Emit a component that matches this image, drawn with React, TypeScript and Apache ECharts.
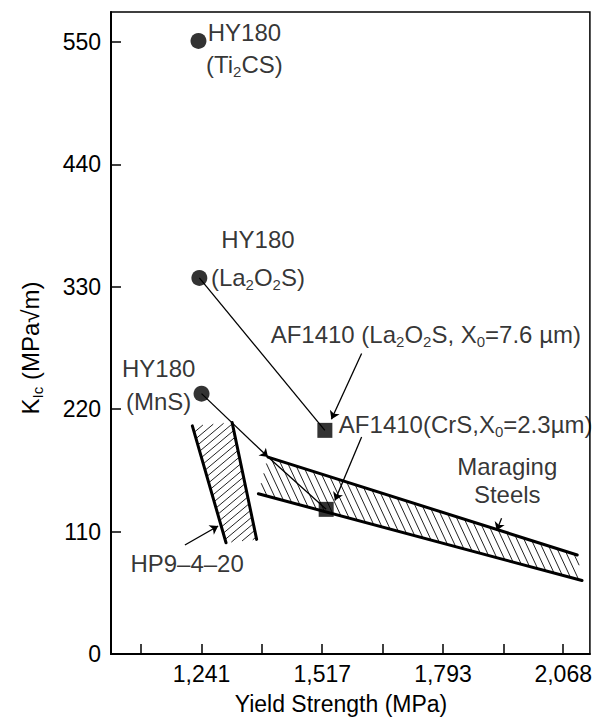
import React, { useEffect, useRef } from "react";
import * as echarts from "echarts";

// ---- axis ticks / labels (MPa on x, MPa·√m on y) ----
const xTickValues = [1103, 1241, 1379, 1517, 1655, 1793, 1931, 2068];
const xLabelValues = [1241, 1517, 1793, 2068];
const yTickValues = [0, 110, 220, 330, 440, 550];

// ---- data points ----
const hy180Points = [
  [1234, 551], // Ti2CS
  [1236, 338], // La2O2S
  [1241, 234], // MnS
];
const af1410Points = [
  [1523, 201], // La2O2S, X0=7.6 um
  [1526, 130], // CrS, X0=2.3 um
];

// ---- connecting lines ----
const linkLa2O2S = [[1236, 338], [1523, 201]];
const linkMnSToBand = [[1241, 234], [1393, 177]];
const linkBandToCrS = [[1393, 177], [1526, 130]];

// ---- hatched bands (polygons in data units) ----
const hp9Band = [[1220, 205], [1311, 208], [1367, 103], [1297, 100]];
const maragingBand = [[1393, 177], [2100, 89], [2111, 66], [1371, 144]];

// ---- annotation arrows ----
const arrowAF1410La = [[1607, 270], [1538, 211]];
const arrowAF1410Cr = [[1607, 195], [1546, 138]];
const arrowMaraging = [[1927, 122], [1916, 111]];
const arrowHP9 = [[1203, 98], [1279, 115]];

// ---- annotation texts and anchors ----
const labelTexts = [
  "HY180\n(Ti{s|2}CS)",
  "HY180\n(La{s|2}O{s|2}S)",
  "HY180\n(MnS)",
  "HP9–4–20",
  "AF1410 (La{s|2}O{s|2}S, X{s|0}=7.6 µm)",
  "AF1410(CrS,X{s|0}=2.3µm)",
  "Maraging\nSteels",
];
const labelAnchors = [
  [1339, 573],
  [1370, 390],
  [1143, 271],
  [1208, 92],
  [1399, 300],
  [1555, 219],
  [1940, 181],
];
const labelAligns = ["center", "center", "center", "center", "left", "left", "center"];
const labelLineHeights = [32, 38, 33, 24, 28, 28, 28];

const yAxisTitle = "{k|K}{s|Ic} (MPa√m)";
const xAxisTitle = "Yield Strength (MPa)";

const FONT = "'Liberation Sans', Arial, Helvetica, sans-serif";

function hatchRenderer(poly: number[][], thickEdges: number[][], angleDeg: number, spacing: number) {
  return (_params: any, api: any) => {
    const pts = poly.map((p) => api.coord(p));
    const a = (angleDeg * Math.PI) / 180;
    const d = [Math.cos(a), -Math.sin(a)];
    const n = [-d[1], d[0]];
    const proj = pts.map((p: number[]) => p[0] * n[0] + p[1] * n[1]);
    const smin = Math.min(...proj);
    const smax = Math.max(...proj);
    const children: any[] = [];
    for (let s = Math.ceil(smin / spacing) * spacing; s <= smax; s += spacing) {
      const hits: number[][] = [];
      for (let i = 0; i < pts.length; i++) {
        const j = (i + 1) % pts.length;
        const fa = proj[i] - s;
        const fb = proj[j] - s;
        if ((fa < 0 && fb >= 0) || (fa >= 0 && fb < 0)) {
          const t = fa / (fa - fb);
          hits.push([pts[i][0] + (pts[j][0] - pts[i][0]) * t, pts[i][1] + (pts[j][1] - pts[i][1]) * t]);
        }
      }
      if (hits.length >= 2) {
        children.push({
          type: "line",
          shape: { x1: hits[0][0], y1: hits[0][1], x2: hits[1][0], y2: hits[1][1] },
          style: { stroke: "#222", lineWidth: 1 },
        });
      }
    }
    thickEdges.forEach(([i, j]) => {
      children.push({
        type: "line",
        shape: { x1: pts[i][0], y1: pts[i][1], x2: pts[j][0], y2: pts[j][1] },
        style: { stroke: "#000", lineWidth: 3, lineCap: "round" },
      });
    });
    return { type: "group", children };
  };
}

export default function App() {
  const ref = useRef<HTMLDivElement>(null);

  useEffect(() => {
    if (!ref.current) return;
    const chart = echarts.init(ref.current, null, { renderer: "svg" });

    const rich = {
      s: { fontSize: 15, fontFamily: FONT, fill: "#000", color: "#000", padding: [14, 0, 0, 0] },
      k: { fontSize: 24, fontFamily: FONT, fill: "#000", color: "#000" },
    };

    const labelData = labelAnchors.map((p, i) => ({
      value: p,
      label: {
        show: true,
        position: "inside",
        formatter: labelTexts[i],
        align: labelAligns[i],
        verticalAlign: "top",
        lineHeight: labelLineHeights[i],
        fontSize: 24,
        fontFamily: FONT,
        color: "#000",
        rich,
      },
    }));

    const option: any = {
      animation: false,
      backgroundColor: "#fff",
      grid: {
        left: 111,
        right: 5,
        top: 12,
        bottom: 65,
        show: true,
        borderColor: "#000",
        borderWidth: 1.5,
        containLabel: false,
      },
      graphic: [
        {
          type: "text",
          x: 30,
          y: 348,
          rotation: Math.PI / 2,
          silent: true,
          style: {
            text: yAxisTitle,
            fontSize: 24,
            fontFamily: FONT,
            fill: "#000",
            align: "center",
            verticalAlign: "middle",
            rich,
          },
        },
      ],
      xAxis: {
        type: "value",
        min: 1034,
        max: 2129,
        name: xAxisTitle,
        nameLocation: "middle",
        nameGap: 38,
        nameTextStyle: { fontSize: 23, fontFamily: FONT, color: "#000", padding: [0, 19, 0, 0] },
        axisLine: { show: true, lineStyle: { color: "#000", width: 2 } },
        axisTick: { show: true, inside: true, length: 10, customValues: xTickValues, lineStyle: { color: "#000", width: 1.5 } },
        axisLabel: {
          customValues: xLabelValues,
          formatter: (v: number) => v.toLocaleString("en-US"),
          fontSize: 23,
          fontFamily: FONT,
          color: "#000",
          margin: 8,
        },
        splitLine: { show: false },
      },
      yAxis: {
        type: "value",
        min: 0,
        max: 577,
        axisLine: { show: true, lineStyle: { color: "#000", width: 2 } },
        axisTick: { show: true, inside: true, length: 10, customValues: yTickValues, lineStyle: { color: "#000", width: 1.5 } },
        axisLabel: {
          customValues: yTickValues,
          fontSize: 23,
          fontFamily: FONT,
          color: "#000",
          margin: 10,
        },
        splitLine: { show: false },
      },
      series: [
        {
          type: "custom",
          renderItem: hatchRenderer(hp9Band, [[0, 3], [1, 2]], 40, 6),
          data: [0],
          silent: true,
          z: 2,
        },
        {
          type: "custom",
          renderItem: hatchRenderer(maragingBand, [[0, 1], [3, 2]], 115, 6.5),
          data: [0],
          silent: true,
          z: 2,
        },
        {
          type: "lines",
          coordinateSystem: "cartesian2d",
          symbol: ["none", "none"],
          lineStyle: { color: "#000", width: 1.3, opacity: 1 },
          data: [{ coords: linkLa2O2S }, { coords: linkBandToCrS }],
          z: 3,
        },
        {
          type: "lines",
          coordinateSystem: "cartesian2d",
          symbol: ["none", "arrow"],
          symbolSize: 8,
          lineStyle: { color: "#000", width: 1.3, opacity: 1 },
          data: [
            { coords: linkMnSToBand },
            { coords: arrowAF1410La },
            { coords: arrowAF1410Cr },
            { coords: arrowMaraging },
            { coords: arrowHP9 },
          ],
          z: 3,
        },
        {
          type: "scatter",
          symbol: "circle",
          symbolSize: 16,
          itemStyle: { color: "#000" },
          data: hy180Points,
          z: 5,
        },
        {
          type: "scatter",
          symbol: "rect",
          symbolSize: 15,
          itemStyle: { color: "#000" },
          data: af1410Points,
          z: 5,
        },
        {
          type: "scatter",
          symbolSize: 1,
          itemStyle: { color: "rgba(0,0,0,0)" },
          data: labelData,
          silent: true,
          z: 6,
        },
      ],
    };

    chart.setOption(option);
    return () => chart.dispose();
  }, []);

  return (
    <div
      ref={ref}
      style={{ position: "absolute", left: 0, top: 0, width: 595, height: 720, background: "#fff" }}
    />
  );
}
